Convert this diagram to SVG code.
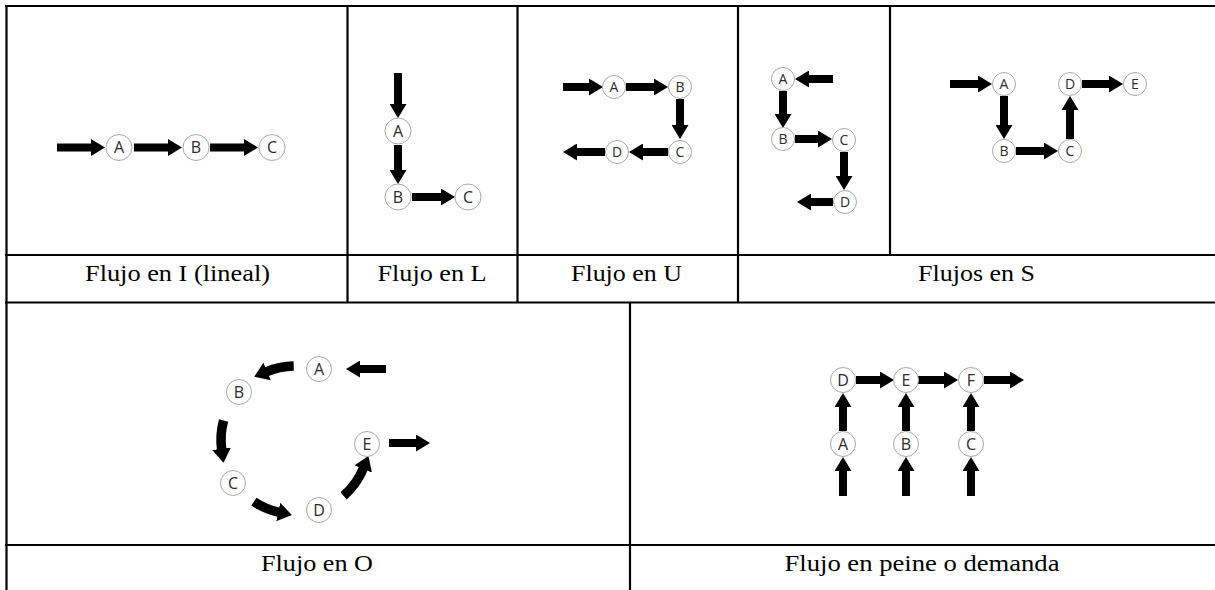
<svg xmlns="http://www.w3.org/2000/svg" width="1215" height="590" viewBox="0 0 1215 590">
  <defs>
    <style>
      .grid line { stroke: #000; stroke-width: 2.2; }
      .label { font-family: "Liberation Serif", "Times New Roman", serif; font-size: 24px; fill: #000; text-anchor: middle; }
      .node circle { fill: #fff; stroke: #a8a8a8; stroke-width: 1; }
      .node text { font-family: "Open Sans", "Liberation Sans", sans-serif; fill: #2b2b2b; text-anchor: middle; }
      .sm text { font-size: 14px; }
      .lg text { font-size: 16px; }
      .flow path { fill: none; stroke: #000; stroke-width: 8; marker-end: url(#head); }
      .flow path.arc { stroke-width: 9.5; marker-end: url(#headO); }
    </style>
    <marker id="head" markerUnits="userSpaceOnUse" viewBox="0 0 14 17" markerWidth="14" markerHeight="17" refX="1" refY="8.5" orient="auto">
      <path d="M0,0 L14,8.5 L0,17 Z" fill="#000"/>
    </marker>
    <marker id="headO" markerUnits="userSpaceOnUse" viewBox="0 0 14 19" markerWidth="14" markerHeight="19" refX="1" refY="9.5" orient="auto">
      <path d="M0,0 L14,9.5 L0,19 Z" fill="#000"/>
    </marker>
  </defs>

  <rect width="1215" height="590" fill="#fff"/>

  <!-- table rules -->
  <g class="grid">
    <line x1="5" y1="6" x2="1215" y2="6"/>
    <line x1="5" y1="255" x2="1215" y2="255"/>
    <line x1="5" y1="302.5" x2="1215" y2="302.5"/>
    <line x1="5" y1="545" x2="1215" y2="545"/>
    <line x1="6.5" y1="5" x2="6.5" y2="590"/>
    <line x1="347.5" y1="5" x2="347.5" y2="302.5"/>
    <line x1="517.5" y1="5" x2="517.5" y2="302.5"/>
    <line x1="738" y1="5" x2="738" y2="302.5"/>
    <line x1="890" y1="5" x2="890" y2="255"/>
    <line x1="630" y1="302.5" x2="630" y2="590"/>
  </g>

  <!-- captions -->
  <g id="captions">
    <text class="label" font-family="Liberation Serif, serif" x="177.5" y="280.5" textLength="185" lengthAdjust="spacingAndGlyphs">Flujo en I (lineal)</text>
    <text class="label" font-family="Liberation Serif, serif" x="432" y="280.5" textLength="109" lengthAdjust="spacingAndGlyphs">Flujo en L</text>
    <text class="label" font-family="Liberation Serif, serif" x="626.5" y="280.5" textLength="111" lengthAdjust="spacingAndGlyphs">Flujo en U</text>
    <text class="label" font-family="Liberation Serif, serif" x="976.5" y="280.5" textLength="117" lengthAdjust="spacingAndGlyphs">Flujos en S</text>
    <text class="label" font-family="Liberation Serif, serif" x="317" y="571" textLength="112" lengthAdjust="spacingAndGlyphs">Flujo en O</text>
    <text class="label" font-family="Liberation Serif, serif" x="922" y="571" textLength="275" lengthAdjust="spacingAndGlyphs">Flujo en peine o demanda</text>
  </g>

  <!-- connectors -->
  <g id="connectors" class="flow">
    <!-- I flow -->
    <path d="M57,147.5 H92"/>
    <path d="M134,147.5 H169"/>
    <path d="M210,147.5 H245"/>
    <!-- L flow -->
    <path d="M398,73 V105"/>
    <path d="M398,145 V171"/>
    <path d="M412,197 H442"/>
    <!-- U flow -->
    <path d="M563,87 H590"/>
    <path d="M626,87 H655"/>
    <path d="M680,99 V126"/>
    <path d="M668,152 H642"/>
    <path d="M605,152 H576"/>
    <!-- S flow, first -->
    <path d="M833,79 H808"/>
    <path d="M783,91 V115"/>
    <path d="M795,139 H819"/>
    <path d="M844,152 V177"/>
    <path d="M833,202 H810"/>
    <!-- S flow, second -->
    <path d="M950,84 H979"/>
    <path d="M1004,96 V126"/>
    <path d="M1016,151 H1045"/>
    <path d="M1070,139 V109"/>
    <path d="M1082,84 H1110"/>
    <!-- O flow -->
    <path d="M386,369 H359"/>
    <path class="arc" d="M293.7,366 A74,74 0 0 0 266.2,371.8"/>
    <path class="arc" d="M223.6,420.5 A74,74 0 0 0 221.7,449.8"/>
    <path class="arc" d="M253.9,501.6 A74,74 0 0 0 279.2,512.3"/>
    <path class="arc" d="M343.6,495.8 A74,74 0 0 0 363.5,468"/>
    <path d="M389,443 H417"/>
    <!-- comb flow -->
    <path d="M856,380 H881"/>
    <path d="M918,380 H945"/>
    <path d="M984,380 H1011"/>
    <path d="M843,431 V406"/>
    <path d="M906,431 V406"/>
    <path d="M971,431 V406"/>
    <path d="M843,496 V470"/>
    <path d="M906,496 V470"/>
    <path d="M971,496 V470"/>
  </g>

  <!-- I flow nodes -->
  <g id="i-a" class="node lg"><circle cx="119" cy="147.5" r="13"/><text x="119" y="153.3">A</text></g>
  <g id="i-b" class="node lg"><circle cx="196" cy="147.5" r="13"/><text x="196" y="153.3">B</text></g>
  <g id="i-c" class="node lg"><circle cx="272" cy="147.5" r="13"/><text x="272" y="153.3">C</text></g>

  <!-- L flow nodes -->
  <g id="l-a" class="node lg"><circle cx="398" cy="131" r="13"/><text x="398" y="136.8">A</text></g>
  <g id="l-b" class="node lg"><circle cx="398" cy="197" r="13"/><text x="398" y="202.8">B</text></g>
  <g id="l-c" class="node lg"><circle cx="468" cy="197" r="13"/><text x="468" y="202.8">C</text></g>

  <!-- U flow nodes -->
  <g id="u-a" class="node sm"><circle cx="614" cy="87" r="11.5"/><text x="614" y="92">A</text></g>
  <g id="u-b" class="node sm"><circle cx="680" cy="87" r="11.5"/><text x="680" y="92">B</text></g>
  <g id="u-c" class="node sm"><circle cx="680" cy="152" r="11.5"/><text x="680" y="157">C</text></g>
  <g id="u-d" class="node sm"><circle cx="617" cy="152" r="11.5"/><text x="617" y="157">D</text></g>

  <!-- S flow nodes, first -->
  <g id="s1-a" class="node sm"><circle cx="783" cy="79" r="11.5"/><text x="783" y="84">A</text></g>
  <g id="s1-b" class="node sm"><circle cx="783" cy="139" r="11.5"/><text x="783" y="144">B</text></g>
  <g id="s1-c" class="node sm"><circle cx="844" cy="140" r="11.5"/><text x="844" y="145">C</text></g>
  <g id="s1-d" class="node sm"><circle cx="845" cy="202" r="11.5"/><text x="845" y="207">D</text></g>

  <!-- S flow nodes, second -->
  <g id="s2-a" class="node sm"><circle cx="1004" cy="84" r="11.5"/><text x="1004" y="89">A</text></g>
  <g id="s2-b" class="node sm"><circle cx="1004" cy="151" r="11.5"/><text x="1004" y="156">B</text></g>
  <g id="s2-c" class="node sm"><circle cx="1070" cy="151" r="11.5"/><text x="1070" y="156">C</text></g>
  <g id="s2-d" class="node sm"><circle cx="1070" cy="84" r="11.5"/><text x="1070" y="89">D</text></g>
  <g id="s2-e" class="node sm"><circle cx="1135" cy="84" r="11.5"/><text x="1135" y="89">E</text></g>

  <!-- O flow nodes -->
  <g id="o-a" class="node lg"><circle cx="319" cy="369" r="12.5"/><text x="319" y="374.8">A</text></g>
  <g id="o-b" class="node lg"><circle cx="239" cy="392" r="12.5"/><text x="239" y="397.8">B</text></g>
  <g id="o-c" class="node lg"><circle cx="233" cy="483" r="12.5"/><text x="233" y="488.8">C</text></g>
  <g id="o-d" class="node lg"><circle cx="319" cy="510" r="12.5"/><text x="319" y="515.8">D</text></g>
  <g id="o-e" class="node lg"><circle cx="367" cy="444" r="12.5"/><text x="367" y="449.8">E</text></g>

  <!-- comb flow nodes -->
  <g id="p-d" class="node lg"><circle cx="843" cy="380" r="12.5"/><text x="843" y="385.8">D</text></g>
  <g id="p-e" class="node lg"><circle cx="906" cy="380" r="12.5"/><text x="906" y="385.8">E</text></g>
  <g id="p-f" class="node lg"><circle cx="971" cy="380" r="12.5"/><text x="971" y="385.8">F</text></g>
  <g id="p-a" class="node lg"><circle cx="843" cy="444" r="12.5"/><text x="843" y="449.8">A</text></g>
  <g id="p-b" class="node lg"><circle cx="906" cy="444" r="12.5"/><text x="906" y="449.8">B</text></g>
  <g id="p-c" class="node lg"><circle cx="971" cy="444" r="12.5"/><text x="971" y="449.8">C</text></g>
</svg>
